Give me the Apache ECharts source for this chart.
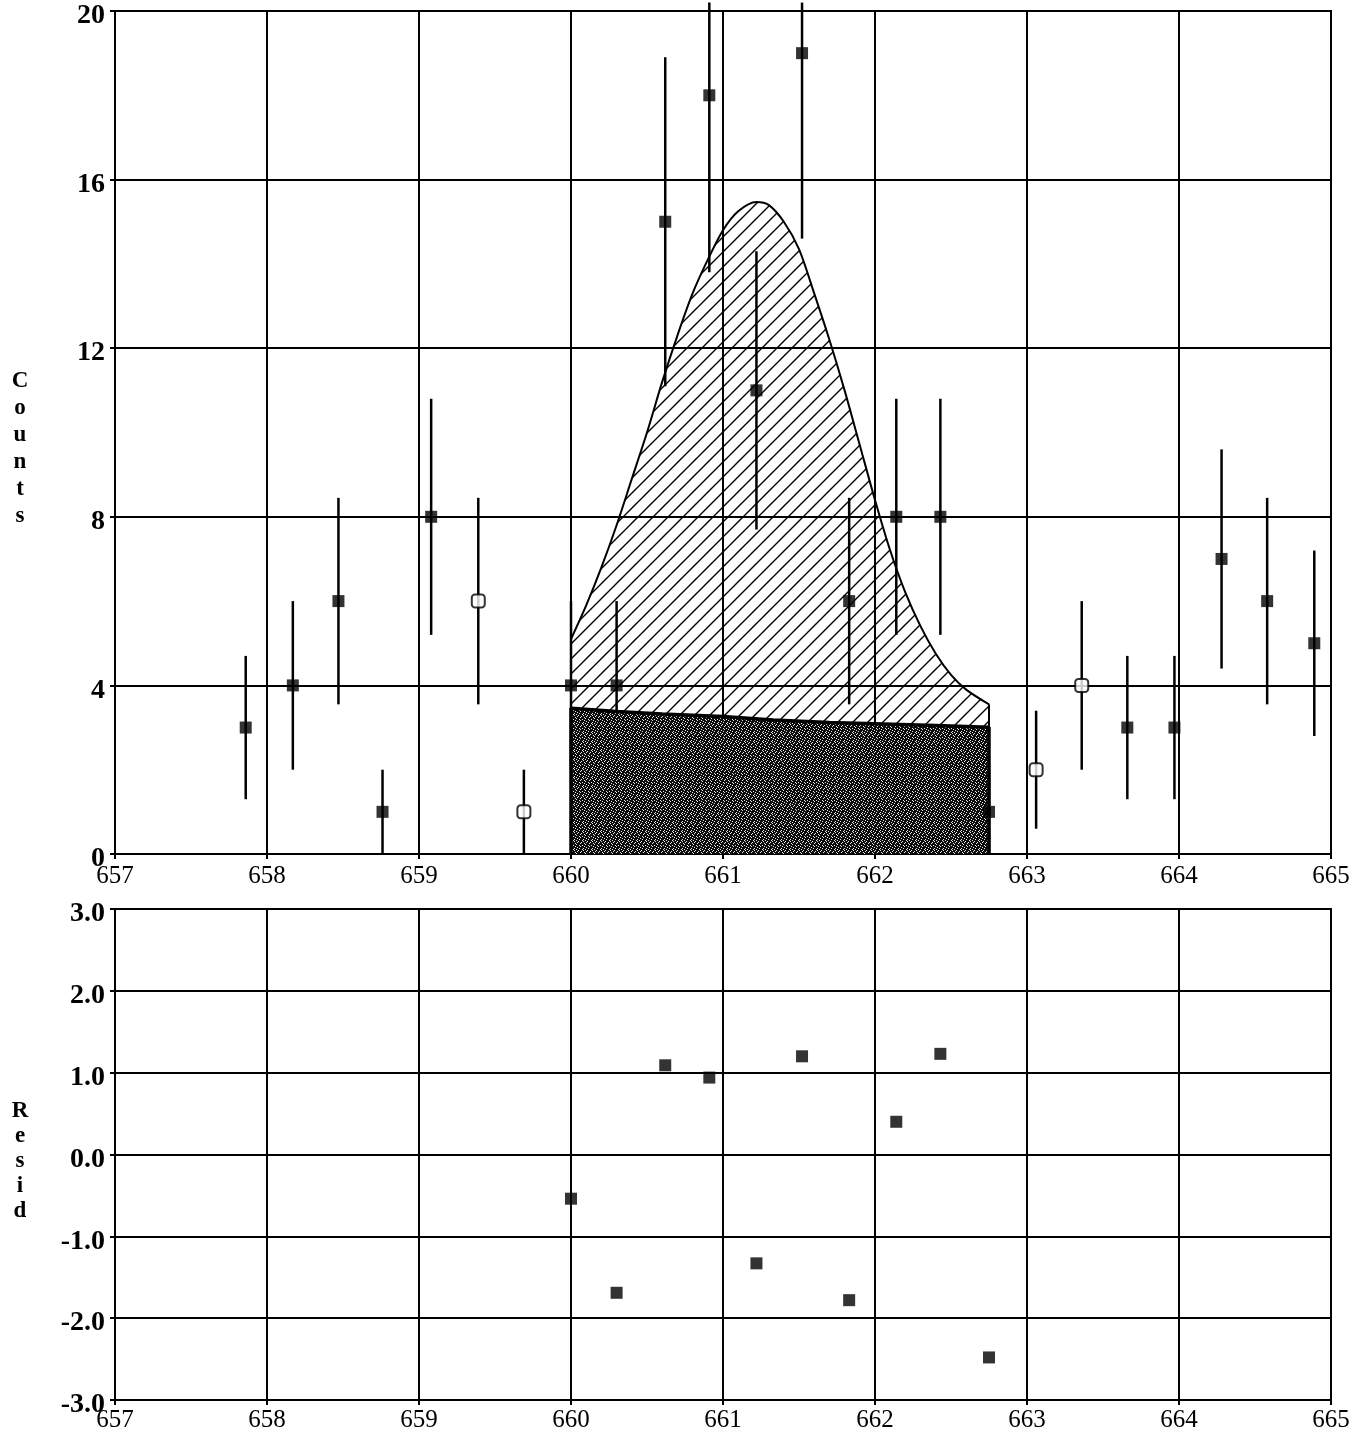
<!DOCTYPE html>
<html>
<head>
<meta charset="utf-8">
<script src="https://cdn.jsdelivr.net/npm/echarts@6/dist/echarts.min.js"></script>
<style>
  html, body { margin: 0; padding: 0; background: #fff; }
  #chart { width: 1369px; height: 1438px; }
</style>
</head>
<body>
<div id="chart"></div>
<script>
// ── Data ────────────────────────────────────────────────────────────────────
// Top panel: counts per channel with their error bars
var countX   = [657.86, 658.17, 658.47, 658.76, 659.08, 659.39, 659.69, 660.00, 660.30, 660.62, 660.91, 661.22,
                661.52, 661.83, 662.14, 662.43, 662.75, 663.06, 663.36, 663.66, 663.97, 664.28, 664.58, 664.89];
var counts   = [3, 4, 6, 1, 8, 6, 1, 4, 4, 15, 18, 11, 19, 6, 8, 8, 1, 2, 4, 3, 3, 7, 6, 5];
var errLow   = [1.3, 2.0, 3.55, 0, 5.2, 3.55, 0, 2.0, 2.0, 11.1, 13.8, 7.7, 14.6, 3.55, 5.2, 5.2, 0, 0.6, 2.0, 1.3, 1.3, 4.4, 3.55, 2.8];
var errHigh  = [4.7, 6.0, 8.45, 2.0, 10.8, 8.45, 2.0, 6.0, 6.0, 18.9, 20.2, 14.3, 20.2, 8.45, 10.8, 10.8, 2.0, 3.4, 6.0, 4.7, 4.7, 9.6, 8.45, 7.2];
var openMark = [false, false, false, false, false, true, true, false, false, false, false, false,
                false, false, false, false, false, true, true, false, false, false, false, false];

// Fitted model: total (background + peak), hatched
var fitX = [660.00, 660.10, 660.20, 660.30, 660.40, 660.50, 660.60, 660.70, 660.80, 660.90, 661.00, 661.10,
            661.22, 661.30, 661.40, 661.50, 661.60, 661.70, 661.80, 661.90, 662.00, 662.10, 662.20, 662.30,
            662.40, 662.50, 662.60, 662.75];
var fitY = [5.1, 5.9, 6.8, 7.8, 8.9, 10.0, 11.2, 12.3, 13.3, 14.1, 14.8, 15.25,
            15.47, 15.4, 15.0, 14.35, 13.3, 12.2, 11.0, 9.7, 8.4, 7.2, 6.2, 5.4,
            4.75, 4.25, 3.9, 3.55];

// Background part of the model, stippled
var bgX = [660.00, 660.00, 660.30, 660.60, 661.00, 661.33, 661.70, 662.00, 662.40, 662.75, 662.75];
var bgY = [0, 3.46, 3.38, 3.32, 3.26, 3.18, 3.12, 3.09, 3.05, 3.01, 0];

// Bottom panel: residuals
var residX = [660.00, 660.30, 660.62, 660.91, 661.22, 661.52, 661.83, 662.14, 662.43, 662.75];
var resid  = [-0.54, -1.69, 1.09, 0.94, -1.33, 1.20, -1.78, 0.40, 1.23, -2.48];

// ── Fill patterns ───────────────────────────────────────────────────────────
function hatchPattern() {
  var c = document.createElement('canvas');
  var s = 15;
  c.width = s; c.height = s;
  var g = c.getContext('2d');
  g.strokeStyle = '#000';
  g.lineWidth = 1.4;
  g.beginPath();
  g.moveTo(-1, s + 1); g.lineTo(s + 1, -1);
  g.moveTo(-2, 2); g.lineTo(2, -2);
  g.moveTo(s - 2, s + 2); g.lineTo(s + 2, s - 2);
  g.stroke();
  return c;
}

function stipplePattern() {
  var c = document.createElement('canvas');
  c.width = 9; c.height = 9;
  var g = c.getContext('2d');
  g.fillStyle = '#0c0c0c';
  g.fillRect(0, 0, 9, 9);
  g.fillStyle = '#e8e8e8';
  var dots = [[1, 1], [4, 0], [7, 2], [2, 4], [5, 5], [8, 6], [0, 7], [3, 8], [6, 8], [6, 3],
              [3, 2], [1, 5], [8, 0], [4, 6], [7, 4], [0, 3]];
  dots.forEach(function (d) { g.fillRect(d[0], d[1], 1, 1); });
  return c;
}

function pairs(xs, ys) {
  return xs.map(function (x, i) { return [x, ys[i]]; });
}

// ── Chart ───────────────────────────────────────────────────────────────────
var FONT = '"Liberation Serif", "Times New Roman", serif';
var chart = echarts.init(document.getElementById('chart'));

function xAxisOpt(gridIndex, margin) {
  return {
    type: 'value', gridIndex: gridIndex, min: 657, max: 665, interval: 1,
    axisLine: { show: true, onZero: false, lineStyle: { color: '#000', width: 2 } },
    axisTick: { show: true, length: 5, lineStyle: { color: '#000', width: 2 } },
    axisLabel: { color: '#000', fontFamily: FONT, fontSize: 25, margin: margin },
    splitLine: { show: true, lineStyle: { color: '#000', width: 2 } }
  };
}

function yAxisOpt(gridIndex, min, max, interval, fmt) {
  return {
    type: 'value', gridIndex: gridIndex, min: min, max: max, interval: interval,
    axisLine: { show: true, onZero: false, lineStyle: { color: '#000', width: 2 } },
    axisTick: { show: true, length: 5, lineStyle: { color: '#000', width: 2 } },
    axisLabel: {
      color: '#000', fontFamily: FONT, fontSize: 28, fontWeight: 'bold', margin: 10,
      verticalAlign: 'top', lineHeight: 10, formatter: fmt
    },
    splitLine: { show: true, lineStyle: { color: '#000', width: 2 } }
  };
}

chart.setOption({
  animation: false,
  backgroundColor: '#fff',
  grid: [
    { left: 115, top: 11, width: 1216, height: 843, show: true, borderColor: '#000', borderWidth: 2 },
    { left: 115, top: 909, width: 1216, height: 491, show: true, borderColor: '#000', borderWidth: 2 }
  ],
  xAxis: [xAxisOpt(0, 10), xAxisOpt(1, 8)],
  yAxis: [
    yAxisOpt(0, 0, 20, 4, '{value}'),
    yAxisOpt(1, -3, 3, 1, function (v) { return v.toFixed(1); })
  ],
  graphic: [
    {
      type: 'text', x: 20, y: 449,
      style: {
        text: 'C\no\nu\nn\nt\ns', fill: '#000', font: 'bold 23px ' + FONT,
        lineHeight: 27, textAlign: 'center', textVerticalAlign: 'middle'
      }
    },
    {
      type: 'text', x: 20, y: 1161,
      style: {
        text: 'R\ne\ns\ni\nd', fill: '#000', font: 'bold 23px ' + FONT,
        lineHeight: 25, textAlign: 'center', textVerticalAlign: 'middle'
      }
    }
  ],
  series: [
    {
      // total model, hatched
      type: 'line', xAxisIndex: 0, yAxisIndex: 0, z: 2,
      data: pairs(fitX, fitY), symbol: 'none', smooth: 0.3,
      lineStyle: { color: '#000', width: 2 },
      areaStyle: { color: { image: hatchPattern(), repeat: 'repeat' }, opacity: 1 },
      markLine: {
        silent: true, symbol: 'none', label: { show: false },
        lineStyle: { color: '#000', width: 2, type: 'solid' },
        data: [[{ coord: [fitX[fitX.length - 1], bgY[bgY.length - 2]] },
                { coord: [fitX[fitX.length - 1], fitY[fitY.length - 1]] }]]
      }
    },
    {
      // error bars
      type: 'custom', xAxisIndex: 0, yAxisIndex: 0, z: 3,
      data: countX.map(function (x, i) { return [x, errLow[i], errHigh[i]]; }),
      encode: { x: 0, y: [1, 2] },
      renderItem: function (params, api) {
        var p1 = api.coord([api.value(0), api.value(1)]);
        var p2 = api.coord([api.value(0), api.value(2)]);
        return {
          type: 'line',
          shape: { x1: p1[0], y1: p1[1], x2: p2[0], y2: p2[1] },
          style: { stroke: '#000', lineWidth: 2.5 }
        };
      }
    },
    {
      // background model, stippled
      type: 'line', xAxisIndex: 0, yAxisIndex: 0, z: 4,
      data: pairs(bgX, bgY), symbol: 'none',
      lineStyle: { color: '#000', width: 3.5 },
      areaStyle: { color: { image: stipplePattern(), repeat: 'repeat' }, opacity: 1 }
    },
    {
      type: 'scatter', xAxisIndex: 0, yAxisIndex: 0, z: 5,
      data: countX.map(function (x, i) {
        if (openMark[i]) {
          return { value: [x, counts[i]], symbol: 'roundRect', symbolSize: 13,
                   itemStyle: { color: '#fff', borderColor: '#000', borderWidth: 2 } };
        }
        return { value: [x, counts[i]], symbol: 'rect', symbolSize: 12,
                 itemStyle: { color: '#000' } };
      })
    },
    {
      type: 'scatter', xAxisIndex: 1, yAxisIndex: 1, z: 5,
      data: pairs(residX, resid), symbol: 'rect', symbolSize: 12,
      itemStyle: { color: '#000' }
    }
  ]
});
</script>
</body>
</html>
